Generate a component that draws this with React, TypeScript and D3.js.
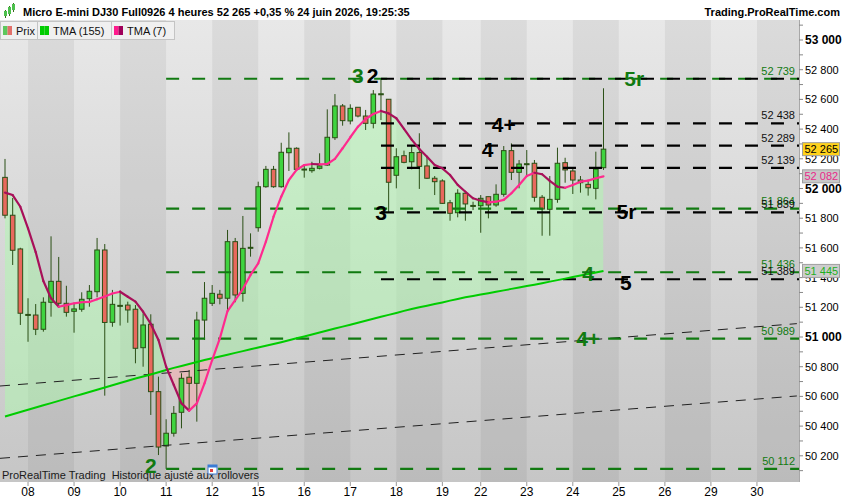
import React, { useEffect, useRef } from 'react';
import * as d3 from 'd3';

// day separators: label + index of the first 4h bar of that day
const dayLabels = ['08', '09', '10', '11', '12', '15', '16', '17', '18', '19', '22', '23', '24', '25', '26', '29', '30'];
const dayStarts = [3, 9, 15, 21, 27, 33, 39, 45, 51, 57, 62, 68, 74, 80, 86, 92, 98];

// 4h candles, Micro E-mini DJ30
const opens = [
  52075, 51820, 51593, 51146, 51148, 51052, 51234, 51375, 51227, 51173,
  51187, 51258, 51305, 51586, 51099, 51208, 51215, 51187, 50928, 51086,
  50632, 50266, 50352, 50493, 50729, 50688, 51114, 51227, 51288, 51261,
  51642, 51294, 51598, 51736, 52012, 52129, 52012, 52241, 52271, 52127,
  52120, 52136, 52158, 52342, 52556, 52455, 52547, 52488, 52439, 52634,
  52601, 52089, 52221, 52180, 52242, 52152, 52069, 52051, 51904, 51837,
  51968, 51882, 51884, 51945, 51889, 51961, 52255, 52109, 52163, 52170,
  51941, 51860, 51927, 52174, 52118, 52039, 52028, 52001, 52140,
];
const highs = [
  52199, 51936, 51601, 51261, 51222, 51267, 51678, 51539, 51345, 51227,
  51301, 51350, 51667, 51626, 51317, 51313, 51238, 51215, 51160, 51153,
  50733, 50446, 50535, 50756, 50778, 51170, 51370, 51350, 51317, 51721,
  51667, 51815, 51698, 52046, 52152, 52152, 52308, 52378, 52277, 52152,
  52180, 52237, 52533, 52636, 52569, 52567, 52547, 52529, 52663, 52739,
  52601, 52271, 52255, 52293, 52372, 52219, 52084, 52062, 51923, 51995,
  51974, 51911, 51956, 51945, 52028, 52286, 52304, 52192, 52259, 52192,
  51956, 52084, 52275, 52207, 52136, 52084, 52057, 52248, 52675,
];
const lows = [
  51799, 51485, 51081, 50968, 51013, 51036, 51137, 51197, 51137, 51029,
  51170, 51204, 51267, 50605, 51069, 51077, 51096, 50823, 50800, 50475,
  50205, 50112, 50329, 50385, 50508, 50430, 50980, 51209, 51220, 51182,
  51234, 51238, 51541, 51709, 52005, 52005, 52005, 52118, 52125, 52073,
  52106, 52129, 52152, 52327, 52423, 52432, 52479, 52394, 52405, 52461,
  51839, 52001, 52170, 52129, 51997, 52064, 51956, 51896, 51783, 51806,
  51783, 51855, 51702, 51799, 51877, 51945, 52057, 52001, 52091, 51911,
  51682, 51682, 51904, 52039, 51963, 51972, 51952, 51927, 52125,
];
const closes = [
  51820, 51584, 51160, 51152, 51052, 51234, 51375, 51227, 51166, 51189,
  51254, 51308, 51586, 51098, 51220, 51213, 51182, 50924, 51081, 50632,
  50259, 50352, 50486, 50722, 50688, 51114, 51261, 51294, 51261, 51642,
  51283, 51597, 51604, 52012, 52129, 52012, 52244, 52271, 52129, 52131,
  52136, 52152, 52345, 52556, 52457, 52540, 52488, 52439, 52636, 52638,
  52042, 52214, 52176, 52242, 52149, 52069, 52046, 51900, 51833, 51968,
  51896, 51886, 51934, 51889, 51961, 52255, 52109, 52165, 52167, 51941,
  51862, 51927, 52170, 52125, 52057, 52057, 52005, 52131, 52265,
];

// moving averages read per bar
const tma7 = [
  51972, 51956, 51877, 51732, 51572, 51377, 51261, 51204, 51215, 51227,
  51234, 51236, 51254, 51273, 51293, 51305, 51271, 51238, 51170, 51088,
  50980, 50800, 50677, 50553, 50504, 50553, 50688, 50845, 50991, 51175,
  51249, 51323, 51418, 51496, 51642, 51810, 51945, 52057, 52125, 52158,
  52165, 52163, 52165, 52199, 52271, 52345, 52416, 52468, 52502, 52522,
  52506, 52473, 52401, 52329, 52266, 52214, 52158, 52136, 52091, 52024,
  51978, 51934, 51918, 51907, 51911, 51923, 51968, 52024, 52084, 52106,
  52096, 52051, 52012, 52005, 52024, 52046, 52053, 52069, 52082,
];
const tma155 = [
  50465, 50480, 50495, 50510, 50525, 50540, 50555, 50570, 50585, 50600,
  50615, 50630, 50645, 50660, 50675, 50690, 50705, 50720, 50734, 50748,
  50763, 50778, 50792, 50805, 50818, 50832, 50845, 50857, 50869, 50881,
  50893, 50905, 50917, 50929, 50941, 50953, 50965, 50978, 50991, 51004,
  51017, 51030, 51044, 51057, 51070, 51083, 51096, 51110, 51123, 51136,
  51149, 51162, 51176, 51189, 51200, 51211, 51222, 51233, 51245, 51256,
  51267, 51276, 51286, 51295, 51305, 51314, 51324, 51333, 51343, 51352,
  51362, 51373, 51383, 51393, 51404, 51414, 51424, 51435, 51445,
];

// horizontal target levels
const greenLevels = [52739, 51864, 51436, 50989, 50112];
const greenLevelStart = 21;
const blackLevels = [52739, 52438, 52289, 52139, 51839, 51389];
const blackLevelStart = 49;

// sloped channel (two dashed lines), endpoints as [bar, price]
const channelBars = [-0.65, 103.2];
const channelUpper = [50670, 51090];
const channelLower = [50183, 50603];

// wave annotations
const waveTexts = ['3', '2', '4+', '4', '3', '5r', '5r', '4', '5', '4+', '2'];
const waveBars = [46.0, 47.9, 65.0, 62.9, 49.0, 81.0, 82.0, 76.0, 80.9, 76.0, 19.0];
const waveValues = [52708, 52708, 52382, 52214, 51788, 51792, 52690, 51379, 51316, 50939, 50084];
const waveGreen = [true, false, false, false, false, false, true, true, false, true, true];

// price axis
const priceLabels = [50200, 50400, 50600, 50800, 51000, 51200, 51400, 51600, 51800, 52000, 52200, 52400, 52600, 52800, 53000];
const priceMinor = [50100, 50300, 50500, 50700, 50900, 51100, 51300, 51500, 51700, 51900, 52100, 52300, 52500, 52700, 52900, 53100];

const lastPrice = 52265;

export default function App() {
  const svgRef = useRef<SVGSVGElement>(null);

  function loadGraph(elm: SVGSVGElement) {
    const width = 850, height = 500;
    const plotRight = 799, plotTop = 20, plotBottom = 482;
    const font = '"Liberation Sans", Arial, sans-serif';
    const green = '#117a11';

    const svg = d3.select(elm)
      .attr('width', width)
      .attr('height', height)
      .style('display', 'block')
      .style('font-family', font);
    svg.selectAll('*').remove();

    svg.append('rect').attr('width', width).attr('height', height).attr('fill', '#fff');

    const x = d3.scaleLinear().domain([-0.652, 103.48]).range([0, plotRight]);
    const y = d3.scaleLinear().domain([50023.6, 53134.7]).range([plotBottom, plotTop]);
    const fmt = (v: number) => d3.format(',')(v).replace(/,/g, ' ');
    const bars = d3.range(opens.length);

    const defs = svg.append('defs');
    const grad = defs.append('linearGradient').attr('id', 'bg')
      .attr('x1', 0).attr('y1', 0).attr('x2', 0).attr('y2', 1);
    grad.append('stop').attr('offset', '0%').attr('stop-color', '#e8e8e8');
    grad.append('stop').attr('offset', '100%').attr('stop-color', '#c6c6c6');
    defs.append('clipPath').attr('id', 'plot').append('rect')
      .attr('x', 0).attr('y', plotTop).attr('width', plotRight).attr('height', plotBottom - plotTop);
    defs.append('clipPath').attr('id', 'above').append('path')
      .attr('d', d3.area<number>().x(i => x(i)).y0(plotTop).y1(i => y(tma155[i]))(bars));
    defs.append('clipPath').attr('id', 'below').append('path')
      .attr('d', d3.area<number>().x(i => x(i)).y0(i => y(tma155[i])).y1(plotBottom)(bars));

    const plot = svg.append('g').attr('clip-path', 'url(#plot)');
    plot.append('rect').attr('x', 0).attr('y', plotTop)
      .attr('width', plotRight).attr('height', plotBottom - plotTop).attr('fill', 'url(#bg)');

    // alternating day bands (08, 10, 12 ... darker)
    dayStarts.forEach((s, k) => {
      if (k % 2 !== 0) return;
      const x0 = x(s);
      const x1 = k + 1 < dayStarts.length ? x(dayStarts[k + 1]) : plotRight;
      plot.append('rect').attr('x', x0).attr('y', plotTop)
        .attr('width', x1 - x0).attr('height', plotBottom - plotTop)
        .attr('fill', '#000').attr('opacity', 0.055);
    });

    // fill between TMA(7) and TMA(155)
    const between = d3.area<number>().x(i => x(i)).y0(i => y(tma7[i])).y1(i => y(tma155[i]));
    plot.append('path').attr('d', between(bars))
      .attr('fill', 'rgba(170,255,170,0.45)').attr('clip-path', 'url(#above)');
    plot.append('path').attr('d', between(bars))
      .attr('fill', 'rgba(255,165,165,0.45)').attr('clip-path', 'url(#below)');

    // candles
    const candle = plot.append('g');
    bars.forEach(i => {
      const cx = x(i);
      const up = closes[i] >= opens[i];
      candle.append('line')
        .attr('x1', cx).attr('x2', cx)
        .attr('y1', y(highs[i])).attr('y2', y(lows[i]))
        .attr('stroke', '#2b4f16').attr('stroke-width', 1);
      const top = y(Math.max(opens[i], closes[i]));
      const bot = y(Math.min(opens[i], closes[i]));
      candle.append('rect')
        .attr('x', cx - 2.3).attr('width', 4.6)
        .attr('y', top).attr('height', Math.max(1, bot - top))
        .attr('fill', up ? '#3fd43f' : '#e8695d')
        .attr('stroke', '#2b4f16').attr('stroke-width', 1);
    });

    // channel lines
    [channelUpper, channelLower].forEach(vals => {
      plot.append('line')
        .attr('x1', x(channelBars[0])).attr('y1', y(vals[0]))
        .attr('x2', x(channelBars[1])).attr('y2', y(vals[1]))
        .attr('stroke', '#222').attr('stroke-width', 1)
        .attr('stroke-dasharray', '10,8');
    });

    // level lines
    greenLevels.forEach(v => {
      plot.append('line')
        .attr('x1', x(greenLevelStart)).attr('x2', plotRight)
        .attr('y1', y(v)).attr('y2', y(v))
        .attr('stroke', green).attr('stroke-width', 2.2)
        .attr('stroke-dasharray', '13,13');
    });
    blackLevels.forEach(v => {
      plot.append('line')
        .attr('x1', x(blackLevelStart)).attr('x2', plotRight)
        .attr('y1', y(v)).attr('y2', y(v))
        .attr('stroke', '#000').attr('stroke-width', 2.2)
        .attr('stroke-dasharray', '13,13');
    });

    // TMA(155)
    plot.append('path')
      .attr('d', d3.line<number>().x(i => x(i)).y(i => y(tma155[i]))(bars))
      .attr('fill', 'none').attr('stroke', '#00cc00').attr('stroke-width', 2);

    // TMA(7), pink when rising, dark when falling
    bars.slice(1).forEach(i => {
      plot.append('line')
        .attr('x1', x(i - 1)).attr('y1', y(tma7[i - 1]))
        .attr('x2', x(i)).attr('y2', y(tma7[i]))
        .attr('stroke', tma7[i] >= tma7[i - 1] ? '#ff2a8e' : '#a8105a')
        .attr('stroke-width', 2.2).attr('stroke-linecap', 'round');
    });

    // level value labels
    greenLevels.forEach(v => {
      plot.append('text').text(fmt(v))
        .attr('x', 795).attr('y', y(v) - 4).attr('text-anchor', 'end')
        .attr('font-size', '11px').attr('fill', green);
    });
    blackLevels.slice(1).forEach(v => {
      plot.append('text').text(fmt(v))
        .attr('x', 795).attr('y', y(v) - 4).attr('text-anchor', 'end')
        .attr('font-size', '11px').attr('fill', '#111');
    });

    // wave labels
    waveTexts.forEach((t, k) => {
      plot.append('text').text(t)
        .attr('x', x(waveBars[k])).attr('y', y(waveValues[k]))
        .attr('text-anchor', 'middle')
        .attr('font-size', '21px').attr('font-weight', 'bold')
        .attr('fill', waveGreen[k] ? green : '#000');
    });

    // bottom-left caption
    plot.append('text').text('ProRealTime Trading  Historique ajusté aux rollovers')
      .attr('x', 2).attr('y', 479).attr('font-size', '11px').attr('fill', '#1a1a1a')
      .attr('xml:space', 'preserve').style('white-space', 'pre');
    const cal = plot.append('g').attr('transform', 'translate(208,465)');
    cal.append('rect').attr('width', 9).attr('height', 9).attr('fill', '#fff').attr('stroke', '#3a7bd5');
    cal.append('rect').attr('width', 9).attr('height', 2.5).attr('fill', '#3a7bd5');
    cal.append('rect').attr('x', 2).attr('y', 4).attr('width', 3).attr('height', 3).attr('fill', '#e04040');

    // right price axis
    svg.append('line').attr('x1', plotRight + 0.5).attr('x2', plotRight + 0.5)
      .attr('y1', 0).attr('y2', plotBottom).attr('stroke', '#a8a8a8');
    priceMinor.concat(priceLabels).forEach(v => {
      svg.append('line').attr('x1', plotRight).attr('x2', plotRight + 4)
        .attr('y1', y(v)).attr('y2', y(v)).attr('stroke', '#888');
    });
    priceLabels.forEach(v => {
      const major = v % 1000 === 0;
      svg.append('text').text(fmt(v))
        .attr('x', 805).attr('y', y(v) + 4)
        .attr('font-size', major ? '12px' : '11px')
        .attr('font-weight', major ? 'bold' : 'normal')
        .attr('fill', '#000');
    });

    // last value boxes
    const tag = (v: number, bg: string, fg: string) => {
      svg.append('rect').attr('x', 802.5).attr('y', y(v) - 6.5)
        .attr('width', 37).attr('height', 13)
        .attr('fill', bg).attr('stroke', '#a0a0a0');
      svg.append('text').text(fmt(v))
        .attr('x', 804.5).attr('y', y(v) + 4)
        .attr('font-size', '11px').attr('fill', fg);
    };
    tag(tma155[tma155.length - 1], '#cdcdcd', '#1faf1f');
    tag(tma7[tma7.length - 1], '#c8c8c8', '#e8288a');
    tag(lastPrice, '#ffd21a', '#000');

    // x axis
    dayStarts.forEach((s, k) => {
      svg.append('line').attr('x1', x(s)).attr('x2', x(s))
        .attr('y1', plotBottom).attr('y2', plotBottom + 4).attr('stroke', '#999');
      svg.append('text').text(dayLabels[k])
        .attr('x', x(s)).attr('y', 496).attr('text-anchor', 'middle')
        .attr('font-size', '12px').attr('fill', '#000');
    });

    // header
    svg.append('rect').attr('x', 0).attr('y', 0).attr('width', width).attr('height', plotTop).attr('fill', '#fff');
    const icon = svg.append('g').attr('transform', 'translate(4,4)');
    [[0, 7, 5], [4, 3, 7], [8, 0, 6]].forEach(([dx, dy, h]) => {
      icon.append('line').attr('x1', dx + 1.5).attr('x2', dx + 1.5).attr('y1', dy - 1).attr('y2', dy + h + 2).attr('stroke', '#3a6a1a');
      icon.append('rect').attr('x', dx).attr('y', dy).attr('width', 3).attr('height', h).attr('fill', '#4cc04c');
    });
    svg.append('text').text('Micro E-mini DJ30 Full0926 4 heures 52 265 +0,35 % 24 juin 2026, 19:25:35')
      .attr('x', 23).attr('y', 16).attr('font-size', '11px').attr('font-weight', 'bold').attr('fill', '#000');
    svg.append('text').text('Trading.ProRealTime.com')
      .attr('x', 840).attr('y', 16).attr('text-anchor', 'end')
      .attr('font-size', '11px').attr('font-weight', 'bold').attr('fill', '#000');

    // legend boxes
    const legend = [
      { x0: 0, x1: 37, label: 'Prix', c1: '#5dc75d', c2: '#e2706a' },
      { x0: 37, x1: 111, label: 'TMA (155)', c1: '#00cc00', c2: '#00cc00' },
      { x0: 111, x1: 174, label: 'TMA (7)', c1: '#ff1a8c', c2: '#a0005a' },
    ];
    legend.forEach(d => {
      svg.append('rect').attr('x', d.x0 + 0.5).attr('y', 21.5)
        .attr('width', d.x1 - d.x0).attr('height', 18)
        .attr('fill', '#f0f0f0').attr('stroke', '#c4c4c4');
      svg.append('rect').attr('x', d.x0 + 3).attr('y', 26).attr('width', 4.5).attr('height', 9).attr('fill', d.c1);
      svg.append('rect').attr('x', d.x0 + 7.5).attr('y', 26).attr('width', 4.5).attr('height', 9).attr('fill', d.c2);
      svg.append('text').text(d.label)
        .attr('x', d.x0 + 16).attr('y', 34.5)
        .attr('font-size', '11px').attr('fill', '#111');
    });
  }

  useEffect(() => {
    document.body.style.margin = '0';
    if (svgRef.current) {
      loadGraph(svgRef.current);
    }
  }, []);

  return <svg ref={svgRef}></svg>;
}
